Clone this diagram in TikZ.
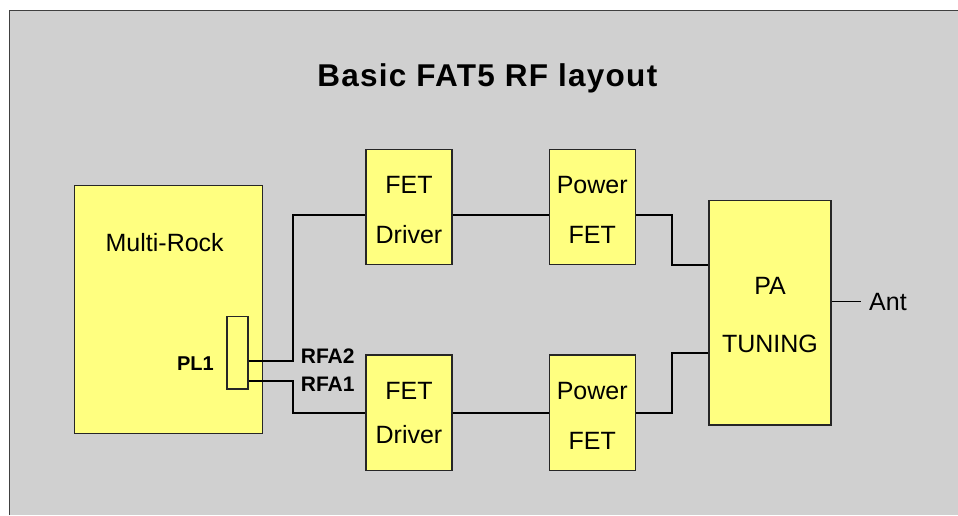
\documentclass[tikz,border=0pt]{standalone}
\usepackage{fontspec}
\setmainfont{Liberation Sans}
\usetikzlibrary{positioning}
\definecolor{bggray}{RGB}{208,208,208}
\definecolor{boxyellow}{RGB}{255,255,128}

\begin{document}
\begin{tikzpicture}[x=1pt,y=-1pt,
  font=\fontsize{25}{50}\selectfont, node distance=96pt,
  bx/.style={draw=black!85,fill=boxyellow,line width=1.2pt,align=center,
             inner sep=0pt},
  stage/.style={bx,minimum width=86pt,minimum height=115.5pt,text height=73.5pt},
  txt/.style={inner sep=0pt,anchor=base},
  pin/.style={txt,font=\fontsize{21}{25}\bfseries\selectfont,anchor=base west},
  wire/.style={line width=1.8pt,black}]
\useasboundingbox (0,0) rectangle (958,515);
\fill[bggray] (9.5,10.5) rectangle (958,515);
\draw[black!75,line width=1pt] (9.5,515) -- (9.5,10.5) -- (958,10.5);
\node[txt,font=\fontsize{31.5}{36}\bfseries\addfontfeature{LetterSpace=4}\selectfont]
  (title) at (487.3,86.7) {Basic FAT5 RF layout};
\node[bx,minimum width=188.4pt,minimum height=247.6pt] (mr) at (168.5,309.5) {};
\node[txt] (mrlbl) at (164.7,251.7) {Multi-Rock};
\node[bx,minimum width=21pt,minimum height=72.3pt] (pl) at (237.5,352.8) {};
\node[txt,font=\fontsize{20}{24}\bfseries\selectfont,anchor=base east] (pllbl)
  at (214,370.7) {PL1};
\node[pin] (rfa2lbl) at (300.7,363.3) {RFA2};
\node[pin] (rfa1lbl) at (300.7,391.7) {RFA1};
\node[stage] (drv2) at (409,207) {FET\\Driver};
\node[stage,right=of drv2] (pf2) {Power\\FET};
\node[stage,below=89pt of drv2,font=\fontsize{25}{44}\selectfont,text height=62pt]
  (drv1) {FET\\Driver};
\node[stage,right=of drv1] (pf1) {Power\\FET};
\node[bx,minimum width=122pt,minimum height=224.3pt,text height=80.3pt,
  font=\fontsize{25}{58}\selectfont] (pa) at (770,312.8) {PA\\TUNING};
\node[txt,inner xsep=7.6pt] (ant) at (888,310) {Ant};
\coordinate (rfa2) at (pl.east |- 0,360.7);
\coordinate (rfa1) at (pl.east |- 0,381.3);
\path (drv2.west) ++(0,7.7) coordinate (d2in);
\coordinate (pa2) at (pa.west |- 0,265.3);
\coordinate (pa1) at (pa.west |- 0,352.7);
\draw[wire] (rfa2) -- ++(44.3,0) |- (d2in);
\draw[wire] (rfa1) -- ++(44.3,0) |- (drv1.west);
\draw[wire] (d2in -| drv2.east) -- (d2in -| pf2.west);
\draw[wire] (drv1) -- (pf1);
\draw[wire] (d2in -| pf2.east) -- ++(36.3,0) |- (pa2);
\draw[wire] (pf1.east) -- ++(36.3,0) |- (pa1);
\draw[wire] (pa.east |- ant.west) -- (ant.west);
\end{tikzpicture}
\end{document}
